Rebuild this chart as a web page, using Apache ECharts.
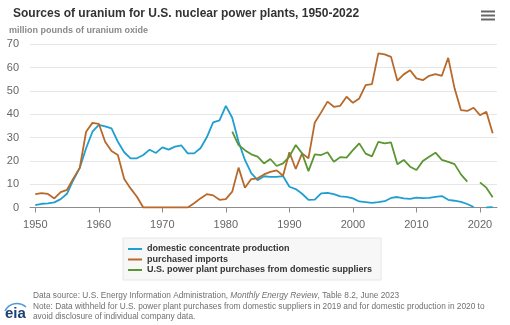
<!DOCTYPE html>
<html>
<head>
<meta charset="utf-8">
<script src="https://cdn.jsdelivr.net/npm/echarts@6/dist/echarts.min.js"></script>
<style>
html,body{margin:0;padding:0;background:#fff;}
#chart{width:510px;height:325px;}
</style>
</head>
<body>
<div id="chart"></div>
<script>
var years = [];
for (var y = 1950; y <= 2022; y++) years.push(y);

var domesticProduction = [
  1.0, 1.6, 1.8, 2.2, 3.6, 5.9, 11.8, 17.0, 25.4, 32.5,
  35.4, 34.8, 33.9, 28.2, 23.7, 21.1, 21.1, 22.5, 24.8, 23.4,
  25.8, 24.8, 26.1, 26.6, 23.2, 23.2, 25.4, 30.1, 36.5, 37.4,
  43.6, 38.5, 28.2, 20.4, 14.7, 11.7, 13.4, 13.1, 13.1, 13.5,
  8.9, 7.9, 5.9, 3.3, 3.4, 6.1, 6.3, 5.7, 4.8, 4.6,
  3.9, 2.6, 2.3, 2.0, 2.3, 2.7, 4.1, 4.5, 3.9, 3.7,
  4.2, 4.0, 4.1, 4.6, 4.9, 3.3, 2.9, 2.4, 1.5, 0.2,
  null, 0.0, 0.2
];

var purchasedImports = [
  5.7, 6.2, 5.8, 3.9, 6.6, 7.6, 12.5, 17.0, 32.5, 36.3,
  35.9, 28.2, 24.2, 22.5, 12.2, 8.2, 4.6, 0, 0, 0,
  0, 0, 0, 0, 0, 1.8, 3.9, 5.7, 5.2, 3.3,
  3.6, 6.8, 17.1, 8.5, 12.2, 12.5, 14.2, 15.3, 15.9, 13.6,
  23.7, 16.5, 23.2, 21.1, 36.5, 40.8, 45.4, 43.2, 43.6, 47.5,
  44.9, 46.8, 52.5, 52.9, 66.1, 65.7, 64.6, 54.4, 57.1, 58.9,
  55.4, 54.6, 56.5, 57.2, 56.5, 64.2, 51.1, 41.8, 41.4, 42.8,
  39.6, 41.1, 31.8
];

var domesticPurchases = [
  null, null, null, null, null, null, null, null, null, null,
  null, null, null, null, null, null, null, null, null, null,
  null, null, null, null, null, null, null, null, null, null,
  null, 32.5, 26.8, 24.6, 22.8, 21.8, 18.9, 20.8, 17.8, 18.9,
  21.8, 26.8, 23.2, 15.6, 22.8, 22.5, 23.7, 19.6, 21.6, 21.4,
  24.6, 27.5, 23.1, 21.9, 28.2, 27.5, 27.9, 18.6, 20.4, 17.5,
  16.1, 19.9, 21.8, 23.5, 20.4, 19.6, 18.6, 14.2, 11.1, null,
  10.8, 8.5, 4.4
];

var seriesNames = [
  'domestic concentrate production',
  'purchased imports',
  'U.S. power plant purchases from domestic suppliers'
];
var seriesColors = ['#1f9fd0', '#b8692a', '#5b9632'];
var xTicks = [1950, 1960, 1970, 1980, 1990, 2000, 2010, 2020];

function pairs(arr) {
  return years.map(function (yr, i) { return [yr, arr[i]]; });
}

var FONT = '"Liberation Sans", Arial, sans-serif';
var chart = echarts.init(document.getElementById('chart'), null, {renderer: 'canvas'});

var allData = [domesticProduction, purchasedImports, domesticPurchases];

chart.setOption({
  animation: false,
  textStyle: {fontFamily: FONT},
  title: {
    text: 'Sources of uranium for U.S. nuclear power plants, 1950-2022',
    left: 8, top: 3,
    textStyle: {fontSize: 12, fontWeight: 'bold', color: '#333', fontFamily: FONT}
  },
  grid: {left: 30, right: 13, top: 44.3, bottom: 117.5, containLabel: false},
  xAxis: {
    type: 'value',
    min: 1949.17, max: 2022.68,
    axisLine: {show: true, lineStyle: {color: '#8c8c8c', width: 1}},
    axisTick: {show: true, length: 5, customValues: xTicks, lineStyle: {color: '#8c8c8c'}},
    axisLabel: {customValues: xTicks, color: '#666', fontSize: 11, margin: 12, fontFamily: FONT,
      formatter: function (v) { return String(Math.round(v)); }},
    splitLine: {show: false}
  },
  yAxis: {
    type: 'value', min: 0, max: 70, interval: 10,
    axisLine: {show: false}, axisTick: {show: false},
    axisLabel: {color: '#666', fontSize: 11, margin: 11, fontFamily: FONT},
    splitLine: {lineStyle: {color: '#e6e6e6', width: 1}}
  },
  legend: {
    orient: 'vertical', left: 123, top: 238,
    backgroundColor: '#f7f7f7', borderColor: '#e6e6e6', borderWidth: 1,
    padding: [6, 9, 5, 5], itemGap: 0.5,
    icon: 'rect', itemWidth: 14, itemHeight: 2,
    textStyle: {fontSize: 9, fontWeight: 'bold', color: '#333', lineHeight: 10, fontFamily: FONT},
    data: seriesNames
  },
  series: seriesNames.map(function (name, i) {
    return {
      name: name, type: 'line', data: pairs(allData[i]),
      showSymbol: false, symbol: 'none', connectNulls: false,
      lineStyle: {color: seriesColors[i], width: 1.8},
      itemStyle: {color: seriesColors[i]},
      z: 2 + i
    };
  }),
  graphic: [
    {type: 'text', left: 9, top: 26,
      style: {text: 'million pounds of uranium oxide', fill: '#8a8a8a', font: 'bold 9px ' + FONT}},
    {type: 'rect', shape: {x: 481, y: 10.5, width: 14, height: 2}, style: {fill: '#666'}},
    {type: 'rect', shape: {x: 481, y: 14.5, width: 14, height: 2}, style: {fill: '#666'}},
    {type: 'rect', shape: {x: 481, y: 18.5, width: 14, height: 2}, style: {fill: '#666'}},
    {type: 'text', left: 33, top: 292,
      style: {text: 'Data source: U.S. Energy Information Administration, {i|Monthly Energy Review}, Table 8.2, June 2023',
        fill: '#707070', font: '8.3px ' + FONT,
        rich: {i: {fontStyle: 'italic', fontSize: 8.3, fill: '#707070', fontFamily: FONT}}}},
    {type: 'text', left: 33, top: 302.5,
      style: {text: 'Note: Data withheld for U.S. power plant purchases from domestic suppliers in 2019 and for domestic production in 2020 to',
        fill: '#707070', font: '8.3px ' + FONT}},
    {type: 'text', left: 33, top: 312.5,
      style: {text: 'avoid disclosure of individual company data.', fill: '#707070', font: '8.3px ' + FONT}},
    {type: 'text', left: 5, top: 306,
      style: {text: 'eia', fill: '#1c3f73', font: 'bold 15px ' + FONT}},
    {type: 'bezierCurve', shape: {x1: 5, y1: 311, x2: 26, y2: 307, cpx1: 9, cpy1: 303, cpx2: 19, cpy2: 301},
      style: {stroke: '#4f9ad6', lineWidth: 1.6, fill: 'none'}}
  ]
});
</script>
</body>
</html>
